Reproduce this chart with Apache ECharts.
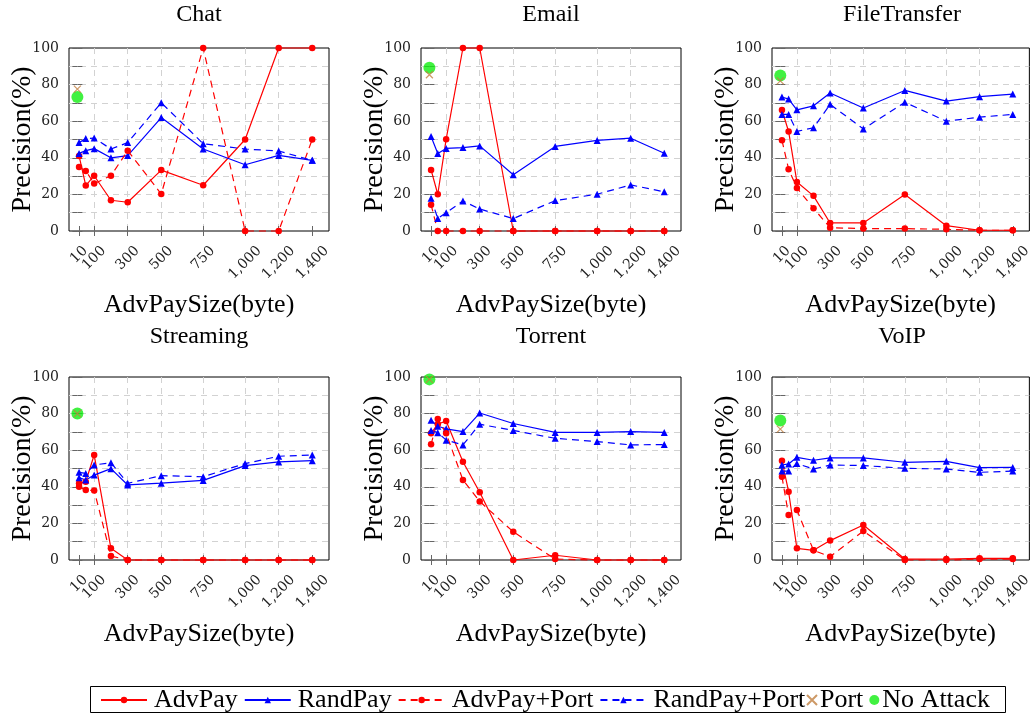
<!DOCTYPE html>
<html><head><meta charset="utf-8">
<script src="https://cdn.jsdelivr.net/npm/echarts@6/dist/echarts.min.js"></script>
<style>html,body{margin:0;padding:0;background:#fff}#c{width:1034px;height:715px}</style>
</head><body><div id="c"></div><script>
// ---- data ----
const panelNames = ['Chat', 'Email', 'FileTransfer', 'Streaming', 'Torrent', 'VoIP'];
const advPaySizes = [10, 50, 100, 200, 300, 500, 750, 1000, 1200, 1400];
const xTickValues = [10, 100, 300, 500, 750, 1000, 1200, 1400];
const yTickValues = [0, 20, 40, 60, 80, 100];

const advPayChat = [41.0, 24.8, 30.2, 16.8, 15.7, 33.3, 25, 50, 100, 100];
const randPayChat = [42.4, 43.9, 45, 40, 41.2, 62, 44.8, 36.2, 41.3, 38.6];
const advPayPortChat = [35, 32.8, 25.9, 30.2, 43.9, 20.2, 100, 0, 0, 50];
const randPayPortChat = [48.3, 50.5, 50.8, 44.8, 48.3, 70.1, 47.7, 44.8, 43.7, 38.6];

const advPayEmail = [33.4, 20.1, 50.2, 100, 100, 0, 0, 0, 0, 0];
const randPayEmail = [51.6, 42.3, 45.1, 45.6, 46.5, 30.7, 46.2, 49.5, 50.7, 42.5];
const advPayPortEmail = [14.4, 0, 0, 0, 0, 0, 0, 0, 0, 0];
const randPayPortEmail = [17.9, 6.8, 10, 16.4, 12, 6.8, 16.6, 20.1, 25.2, 21.4];

const advPayFile = [66.1, 54.4, 26.8, 19.2, 4.4, 4.4, 19.9, 2.9, 0.4, 0.4];
const randPayFile = [73.2, 72.1, 66.2, 68.4, 75.4, 67.2, 76.8, 71, 73.4, 74.8];
const advPayPortFile = [49.6, 33.8, 23.5, 12.4, 1.8, 1.3, 1.3, 0.9, 0.4, 0.4];
const randPayPortFile = [63.7, 63.7, 54.4, 56.4, 69.2, 55.8, 70.3, 60, 62.2, 63.7];

const advPayStreaming = [41.9, 42.8, 57.4, 6.4, 0, 0, 0, 0, 0, 0];
const randPayStreaming = [45, 43.7, 46.4, 49.9, 41, 42, 43.5, 51.6, 53.6, 54.3];
const advPayPortStreaming = [40, 38.2, 38, 2.2, 0, 0, 0, 0, 0, 0];
const randPayPortStreaming = [47.9, 47.3, 51.9, 53.2, 41.9, 46.1, 45.5, 52.7, 56.7, 57.4];

const advPayTorrent = [69.2, 74.2, 76, 53.7, 37, 0, 2.6, 0, 0, 0];
const randPayTorrent = [76.4, 73.1, 71.7, 70.2, 80.3, 74.6, 69.7, 69.7, 70.2, 69.7];
const advPayPortTorrent = [63.2, 77, 69.2, 43.7, 32, 15.4, 0.5, 0, 0, 0];
const randPayPortTorrent = [70.8, 69.6, 65.5, 62.9, 74.2, 70.8, 66.5, 64.7, 62.9, 63.1];

const advPayVoIP = [54.3, 37.3, 6.4, 5.3, 10.6, 19.1, 0.5, 0.5, 0.9, 0.9];
const randPayVoIP = [51.9, 52.5, 56.1, 54.5, 55.8, 55.8, 53.4, 53.9, 50.5, 50.6];
const advPayPortVoIP = [45.5, 24.6, 27.3, 5.3, 1.8, 15.8, 0, 0, 0.5, 0.5];
const randPayPortVoIP = [48.6, 48.6, 52.7, 49.7, 51.9, 51.6, 50.1, 49.7, 47.9, 48.6];

const portOnly = [77.5, 85.4, 82, 80, 98.7, 71.5];      // at x = 0
const noAttack = [73.2, 89.2, 85, 80, 98.7, 76.2];      // at x = 0
const baselineX = 0;

// ---- build ----
const advPayAll = [advPayChat, advPayEmail, advPayFile, advPayStreaming, advPayTorrent, advPayVoIP];
const randPayAll = [randPayChat, randPayEmail, randPayFile, randPayStreaming, randPayTorrent, randPayVoIP];
const advPayPortAll = [advPayPortChat, advPayPortEmail, advPayPortFile, advPayPortStreaming, advPayPortTorrent, advPayPortVoIP];
const randPayPortAll = [randPayPortChat, randPayPortEmail, randPayPortFile, randPayPortStreaming, randPayPortTorrent, randPayPortVoIP];

const RED = '#ff0000', BLUE = '#0000ff', GREEN = '#11ee11', BROWN = '#c08040';
const SERIF = 'Liberation Serif';
const TICKFONT = 'DejaVu Serif';
const TFS = 14;
const X_MIN = -50, X_MAX = 1500;
const gridLefts = [69, 421, 772], gridTops = [48, 377], GW = 260, GH = 183;
const titleOffsets = [33, 40];
const gridLineStyle = { type: [6, 5], color: '#d2d2d2', width: 1 };
const tickStyle = { color: '#666', width: 1 };

const withCommas = v => String(v).replace(/\B(?=(\d{3})+(?!\d))/g, ',');
// rotated labels: centred under the tick with their tops aligned (pgfplots style)
const fmtX = v => {
  if (xTickValues.indexOf(v) < 0) return '';
  const s = withCommas(v);
  const key = s.length <= 2 ? 'a' : (s.length === 3 ? 'b' : 'c');
  return '{' + key + '|' + s + '}';
};
const richBase = { fontFamily: TICKFONT, fontSize: TFS, color: '#222' };
const xRich = {
  a: Object.assign({}, richBase),
  b: Object.assign({ padding: [4.5, 4.5, 0, 0] }, richBase),
  c: Object.assign({ padding: [11, 11, 0, 0] }, richBase)
};
const zip = ys => advPaySizes.map((x, k) => [x, ys[k]]);

const grids = [], xAxes = [], yAxes = [], series = [], graphics = [];
panelNames.forEach((name, i) => {
  const row = Math.floor(i / 3);
  const left = gridLefts[i % 3], top = gridTops[row];
  grids.push({ left, top, width: GW, height: GH, show: true, borderColor: '#000', borderWidth: 1, backgroundColor: 'transparent' });
  xAxes.push({
    type: 'value', gridIndex: i, position: 'bottom', min: X_MIN, max: X_MAX,
    axisLine: { show: false },
    axisTick: { show: true, inside: true, length: 5, customValues: xTickValues, lineStyle: tickStyle },
    axisLabel: { show: true, customValues: [X_MIN].concat(xTickValues, [X_MAX]), rotate: 45, margin: 24, formatter: fmtX,
      align: 'center', verticalAlign: 'middle', hideOverlap: false,
      fontFamily: TICKFONT, fontSize: TFS, color: '#222', rich: xRich },
    splitLine: { show: true, lineStyle: gridLineStyle, showMinLine: false, showMaxLine: false },
    name: 'AdvPaySize(byte)', nameLocation: 'middle', nameGap: 61, nameMoveOverlap: false,
    nameTextStyle: { fontFamily: SERIF, fontSize: 26, color: '#000' }
  });
  xAxes.push({
    type: 'value', gridIndex: i, position: 'top', min: X_MIN, max: X_MAX,
    axisLine: { show: false },
    axisTick: { show: true, inside: true, length: 5, customValues: xTickValues, lineStyle: tickStyle },
    axisLabel: { show: false }, splitLine: { show: false }
  });
  yAxes.push({
    type: 'value', gridIndex: i, position: 'left', min: 0, max: 100, interval: 10,
    axisLine: { show: false },
    axisTick: { show: true, inside: true, length: 5, lineStyle: tickStyle },
    axisLabel: { show: true, margin: 10, fontFamily: TICKFONT, fontSize: TFS, color: '#222',
      showMinLabel: true, showMaxLabel: true,
      formatter: v => yTickValues.indexOf(v) >= 0 ? String(v) : '' },
    splitLine: { show: true, lineStyle: gridLineStyle, showMinLine: false, showMaxLine: false },
    name: 'Precision(%)', nameLocation: 'middle', nameGap: 32, nameRotate: 90, nameMoveOverlap: false,
    nameTextStyle: { fontFamily: SERIF, fontSize: 28, color: '#000' }
  });
  yAxes.push({
    type: 'value', gridIndex: i, position: 'right', min: 0, max: 100, interval: 10,
    axisLine: { show: false },
    axisTick: { show: true, inside: true, length: 5, lineStyle: tickStyle },
    axisLabel: { show: false }, splitLine: { show: false }
  });
  const xa = 2 * i, ya = 2 * i;
  const lineBase = { type: 'line', xAxisIndex: xa, yAxisIndex: ya, clip: false, animation: false };
  series.push(Object.assign({}, lineBase, { name: 'AdvPay', data: zip(advPayAll[i]), color: RED,
    symbol: 'circle', symbolSize: 6.5, lineStyle: { color: RED, width: 1.2, type: 'solid' }, itemStyle: { color: RED } }));
  series.push(Object.assign({}, lineBase, { name: 'RandPay', data: zip(randPayAll[i]), color: BLUE,
    symbol: 'triangle', symbolSize: 7, lineStyle: { color: BLUE, width: 1.2, type: 'solid' }, itemStyle: { color: BLUE } }));
  series.push(Object.assign({}, lineBase, { name: 'AdvPay+Port', data: zip(advPayPortAll[i]), color: RED,
    symbol: 'circle', symbolSize: 6.5, lineStyle: { color: RED, width: 1.2, type: [7, 5] }, itemStyle: { color: RED } }));
  series.push(Object.assign({}, lineBase, { name: 'RandPay+Port', data: zip(randPayPortAll[i]), color: BLUE,
    symbol: 'triangle', symbolSize: 7, lineStyle: { color: BLUE, width: 1.2, type: [7, 5] }, itemStyle: { color: BLUE } }));
  series.push({ type: 'scatter', name: 'No Attack', xAxisIndex: xa, yAxisIndex: ya, clip: false, animation: false,
    data: [[baselineX, noAttack[i]]], symbol: 'circle', symbolSize: 12, itemStyle: { color: GREEN } });
  series.push({ type: 'scatter', name: 'Port', xAxisIndex: xa, yAxisIndex: ya, clip: false, animation: false,
    data: [[baselineX, portOnly[i]]], symbol: 'path://M0,0L10,10M10,0L0,10', symbolSize: 7,
    itemStyle: { color: 'rgba(0,0,0,0)', borderColor: BROWN, borderWidth: 1.2 } });
  graphics.push({ type: 'text', x: left + GW / 2, y: top - titleOffsets[row], silent: true,
    style: { text: name, fontFamily: SERIF, fontSize: 24, fill: '#000', align: 'center', verticalAlign: 'middle' } });
});
graphics.push({ type: 'rect', shape: { x: 90.5, y: 686.5, width: 915, height: 26 }, silent: true,
  style: { fill: 'none', stroke: '#000', lineWidth: 1 } });

const chart = echarts.init(document.getElementById('c'), null, { renderer: 'canvas' });
chart.setOption({
  animation: false,
  backgroundColor: '#fff',
  grid: grids, xAxis: xAxes, yAxis: yAxes, series,
  graphic: graphics,
  legend: [
    { data: ['AdvPay', 'RandPay', 'AdvPay+Port', 'RandPay+Port'], left: 100, top: 687, padding: 0,
      itemWidth: 46, itemHeight: 8, itemGap: 6, selectedMode: false,
      textStyle: { fontFamily: SERIF, fontSize: 26, color: '#000', padding: [0, 0, 0, 2] } },
    { data: ['Port', 'No Attack'], left: 806, top: 687, padding: 0,
      itemWidth: 10, itemHeight: 10, itemGap: 6, selectedMode: false,
      textStyle: { fontFamily: SERIF, fontSize: 26, color: '#000', padding: [0, 0, 0, -2] } }
  ]
});
</script></body></html>
